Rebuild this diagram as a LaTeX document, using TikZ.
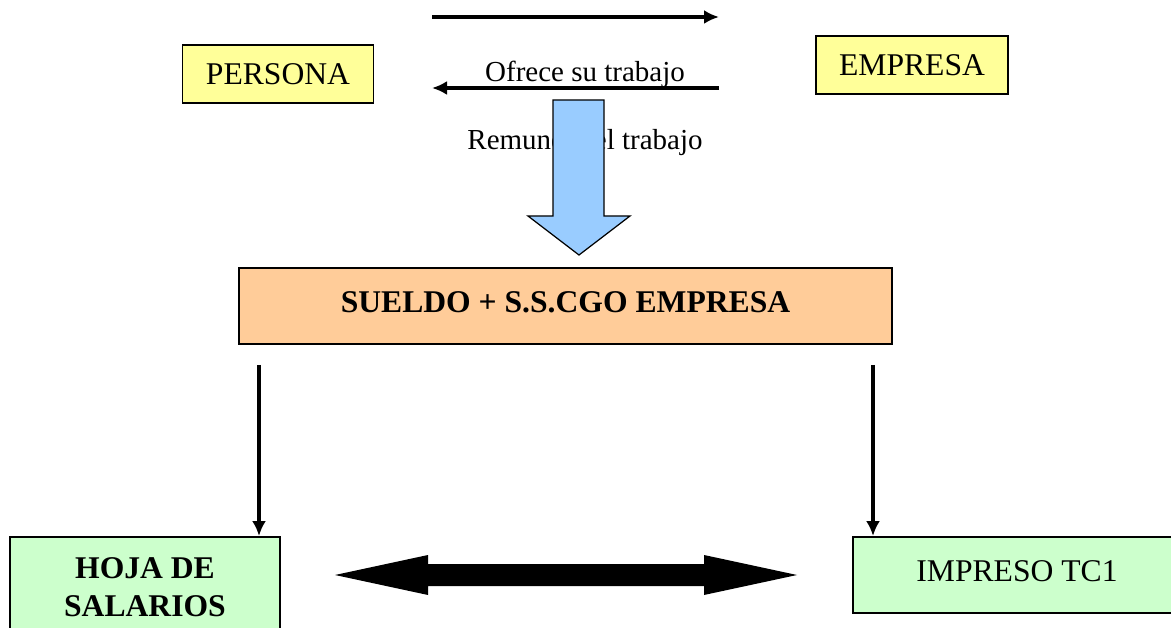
\documentclass[tikz,border=0pt]{standalone}
\usepackage{fontspec}
\setmainfont{Liberation Serif}
\usetikzlibrary{positioning, arrows.meta}
\definecolor{boxyellow}{HTML}{FFFF99}
\definecolor{boxorange}{HTML}{FFCC99}
\definecolor{boxgreen}{HTML}{CCFFCC}
\definecolor{arrowblue}{HTML}{99CCFF}
\begin{document}
\begin{tikzpicture}[
    x=0.02cm, y=-0.02cm,
    box/.style={rectangle, draw, line width=1.1pt, align=center, inner sep=2pt, font=\fontsize{18}{21.6}\selectfont},
    lbl/.style={inner sep=0pt, font=\fontsize{16.5}{19}\selectfont},
    line/.style={draw, line width=2pt, -{Latex[length=0.3cm, width=0.28cm]}},
    vline/.style={draw, line width=2.5pt, -{Latex[length=0.3cm, width=0.28cm]}},
    fat/.style={fill=black, draw=none}
  ]
  \clip (0,0) rectangle (1171,628);

  \node[box, fill=boxyellow, minimum width=3.82cm, minimum height=1.16cm] (persona) at (278,74) {PERSONA};
  \node[box, fill=boxyellow, minimum width=3.84cm, minimum height=1.16cm] (empresa) at (912,65) {EMPRESA};
  \node[box, fill=boxorange, minimum width=13.06cm, minimum height=1.52cm, font=\fontsize{18}{21.6}\selectfont\bfseries] (sueldo) at (565.5,306) {\raisebox{0.16cm}{SUELDO + S.S.CGO EMPRESA}};
  \node[box, fill=boxgreen, minimum width=5.4cm, minimum height=2cm, font=\fontsize{18}{21.6}\selectfont\bfseries] (hoja) at (145,587) {HOJA DE\\SALARIOS};
  \node[box, fill=boxgreen, minimum width=6.56cm, minimum height=1.52cm] (impreso) at (1017,575) {\raisebox{0.16cm}{IMPRESO TC1}};

  % flechas superiores
  \coordinate (ta) at (432,17);
  \coordinate (tb) at (719,17);
  \coordinate (ba) at (719,88);
  \coordinate (bb) at (432,88);
  \draw[line] (ta) -- (tb);
  \draw[line] (ba) -- (bb);
  \node[lbl, anchor=base] (ofrece) at (585,82) {Ofrece su trabajo};
  \node[lbl, anchor=base] (remunera) at (585,150) {Remunera el trabajo};

  % flecha azul
  \filldraw[fill=arrowblue, draw=black, line width=0.7pt]
    (553,100) -- (604,100) -- (604,216) -- (630,216) -- (579,255) -- (528,216) -- (553,216) -- cycle;

  % flechas verticales
  \coordinate (sl) at (259,365);
  \coordinate (sr) at (873,365);
  \draw[vline] (sl) -- (sl |- hoja.north);
  \draw[vline] (sr) -- (sr |- impreso.north);

  % flecha doble
  \fill[fat] (335,575) -- (428,555) -- (428,564) -- (704,564) -- (704,555) -- (797,575)
    -- (704,595) -- (704,586) -- (428,586) -- (428,595) -- cycle;

\end{tikzpicture}
\end{document}
